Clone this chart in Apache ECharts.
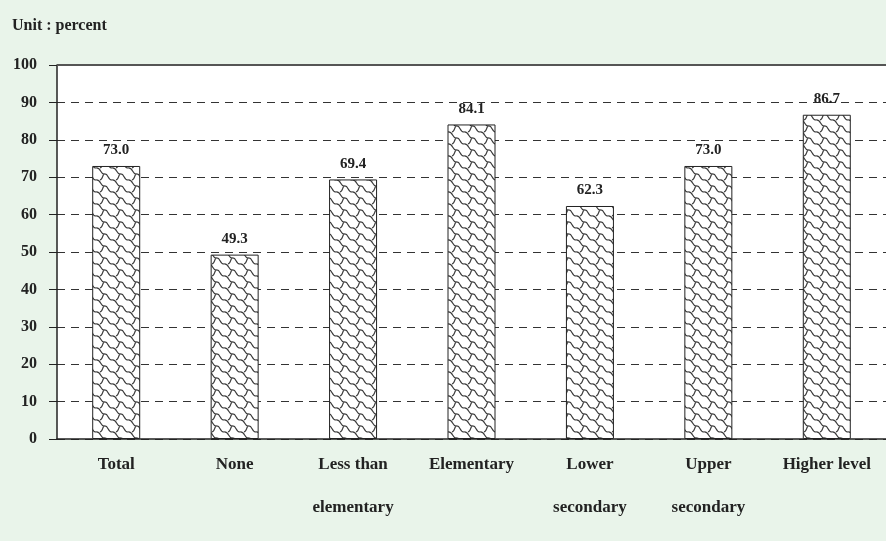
<!DOCTYPE html>
<html>
<head>
<meta charset="utf-8">
<script src="https://cdn.jsdelivr.net/npm/echarts@6/dist/echarts.min.js"></script>
<style>
  html, body { margin: 0; padding: 0; background: #e9f4ea; }
  #chart { width: 886px; height: 541px; }
</style>
</head>
<body>
<div id="chart"></div>
<script>
const categories = ['Total', 'None', 'Less than\nelementary', 'Elementary', 'Lower\nsecondary', 'Upper\nsecondary', 'Higher level'];
const values = [73.0, 49.3, 69.4, 84.1, 62.3, 73.0, 86.7];
const yTicks = [0, 10, 20, 30, 40, 50, 60, 70, 80, 90, 100];

// chain-link fill like the original bars
function makePattern() {
  const w = 16, h = 12;
  const c = document.createElement('canvas');
  c.width = w;
  c.height = h;
  const g = c.getContext('2d');
  g.fillStyle = '#fff';
  g.fillRect(0, 0, w, h);
  g.strokeStyle = '#3a3a3a';
  g.lineWidth = 1.2;
  // stepped diagonal, drawn with wrap copies
  for (const [dx, dy] of [[0, 0], [-w, -h], [w, h], [0, -h], [0, h]]) {
    g.beginPath();
    g.moveTo(dx + 0, dy + 0);
    g.bezierCurveTo(dx + 5, dy - 1, dx + 4, dy + 6, dx + 8, dy + 6);
    g.bezierCurveTo(dx + 13, dy + 5, dx + 11, dy + 12, dx + 16, dy + 12);
    g.moveTo(dx + 8, dy + 6);
    g.bezierCurveTo(dx + 6, dy + 8, dx + 7, dy + 11, dx + 4, dy + 12);
    g.stroke();
  }
  return c;
}

const font = '"Liberation Serif", "Times New Roman", serif';
const chart = echarts.init(document.getElementById('chart'));
chart.setOption({
  backgroundColor: '#e9f4ea',
  animation: false,
  title: {
    text: 'Unit : percent',
    left: 7,
    top: 13,
    textStyle: { fontFamily: font, fontSize: 16, fontWeight: 'bold', color: '#222' }
  },
  grid: {
    left: 57,
    top: 65,
    width: 843,
    bottom: 102,
    show: true,
    backgroundColor: '#fff',
    borderWidth: 0
  },
  xAxis: {
    type: 'category',
    data: categories,
    axisLine: { lineStyle: { color: '#222', width: 1.5 } },
    axisTick: { length: 8, lineStyle: { color: '#222' } },
    axisLabel: {
      interval: 0,
      margin: 4,
      lineHeight: 43,
      fontFamily: font,
      fontSize: 17,
      fontWeight: 'bold',
      color: '#222'
    }
  },
  yAxis: {
    type: 'value',
    min: yTicks[0],
    max: yTicks[yTicks.length - 1],
    interval: 10,
    axisLine: { show: true, lineStyle: { color: '#222', width: 1.5 } },
    axisTick: { show: true, length: 8, lineStyle: { color: '#222' } },
    axisLabel: {
      margin: 20,
      fontFamily: font,
      fontSize: 16,
      fontWeight: 'bold',
      color: '#222'
    },
    splitLine: { lineStyle: { color: '#333', type: [8, 6], width: 1 } }
  },
  series: [{
    type: 'bar',
    data: values,
    barWidth: 48,
    itemStyle: {
      color: { image: makePattern(), repeat: 'repeat' },
      borderColor: '#222',
      borderWidth: 1
    },
    label: {
      show: true,
      position: 'top',
      distance: 8,
      formatter: p => p.value.toFixed(1),
      fontFamily: font,
      fontSize: 15,
      fontWeight: 'bold',
      color: '#222'
    },
    markLine: {
      silent: true,
      symbol: 'none',
      label: { show: false },
      lineStyle: { color: '#555', type: 'solid', width: 2 },
      data: [{ yAxis: yTicks[yTicks.length - 1] }]
    }
  }]
});
</script>
</body>
</html>
